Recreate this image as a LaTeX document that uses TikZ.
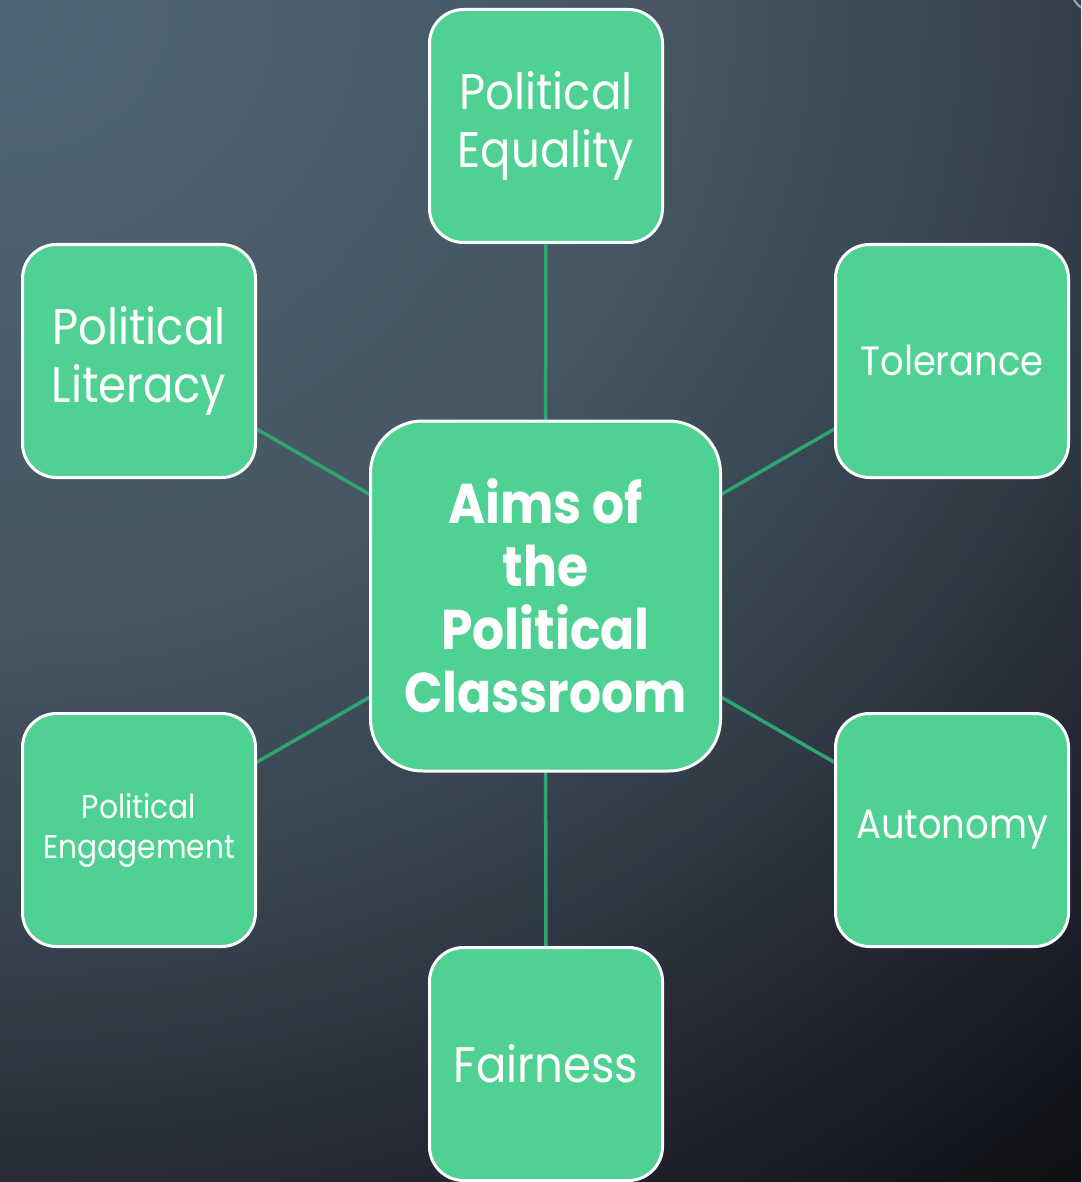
\documentclass[tikz,border=0pt]{standalone}
\usepackage{fontspec}
\setmainfont{Poppins}[FakeStretch=0.9]

\definecolor{boxgreen}{RGB}{79,209,148}
\definecolor{linkgreen}{RGB}{47,165,111}
\definecolor{ringblue}{RGB}{140,172,192}
\definecolor{bgA}{RGB}{80,102,118}
\definecolor{bgB}{RGB}{70,86,98}
\definecolor{bgG}{RGB}{53,66,77}
\definecolor{bgD}{RGB}{39,44,56}
\definecolor{bgF}{RGB}{15,16,21}

% elliptical fade from the upper-left corner; the path radius corresponds to 25bp
\pgfdeclareradialshading{slatefade}{\pgfpoint{0bp}{0bp}}{%
  color(0bp)=(bgA); color(9.5bp)=(bgB); color(14.8bp)=(bgG);
  color(18.3bp)=(bgD); color(23.8bp)=(bgF); color(50bp)=(bgF)}

\pgfdeclarelayer{bg}
\pgfdeclarelayer{links}
\pgfsetlayers{bg,links,main}

\tikzset{
  aim/.style={draw=white, line width=3pt, fill=boxgreen, rounded corners=34pt,
    minimum width=233pt, minimum height=233pt, inner sep=0pt,
    text=white, align=center},
  hub/.style={aim, rounded corners=52pt, minimum width=350pt, minimum height=350pt,
    font=\bfseries\fontsize{56}{63}\selectfont},
  link/.style={draw=linkgreen, line width=3.5pt},
  large/.style={font=\fontsize{50}{58}\selectfont},
  mid/.style={font=\fontsize{41}{48}\selectfont},
  small/.style={font=\fontsize{33}{40}\selectfont},
}

\begin{document}
\begin{tikzpicture}[x=1pt, y=-1pt]
  \useasboundingbox (0,0) rectangle (1081,1182);

  \begin{pgfonlayer}{bg}
    \clip (0,0) rectangle (1081,1182);
    \fill[bgF] (0,0) rectangle (1081,1182);
    \shade[shading=slatefade] (0,0) ellipse [x radius=1760, y radius=1600];
    \draw[ringblue, line width=2pt] (1095,-12) circle (24);
  \end{pgfonlayer}

  \node[hub] (hub) at (545.5,596) {Aims of\\the\\Political\\Classroom};

  \node[aim, large] (equality)   at (546,126)  {Political\\Equality};
  \node[aim, large] (literacy)   at (139,361)  {Political\\Literacy};
  \node[aim, mid]   (tolerance)  at (952,361)  {Tolerance};
  \node[aim, small] (engagement) at (139,830)  {Political\\Engagement};
  \node[aim, mid]   (autonomy)   at (952,830)  {Autonomy};
  \node[aim, large] (fairness)   at (546,1064) {Fairness};

  \begin{pgfonlayer}{links}
    \draw[link] (hub.center) -- (equality.center);
    \draw[link] (hub.center) -- (literacy.center);
    \draw[link] (hub.center) -- (tolerance.center);
    \draw[link] (hub.center) -- (engagement.center);
    \draw[link] (hub.center) -- (autonomy.center);
    \draw[link] (hub.center) -- (fairness.center);
  \end{pgfonlayer}
\end{tikzpicture}
\end{document}
